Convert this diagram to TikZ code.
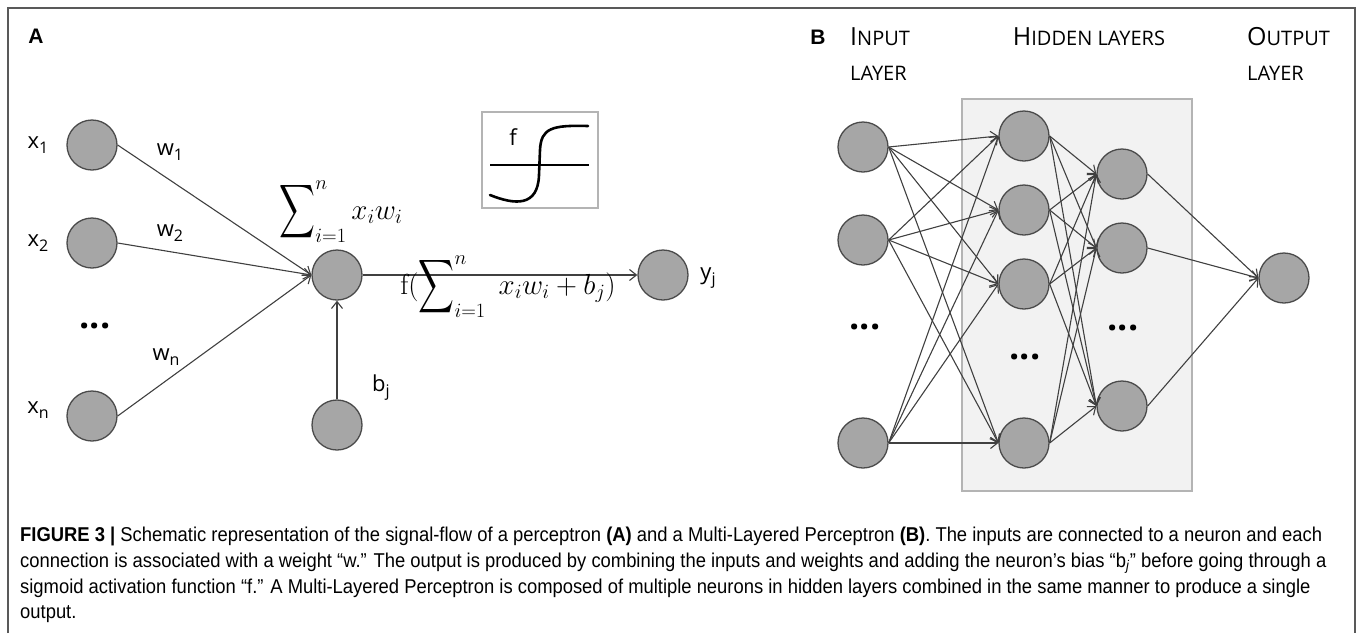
\RequirePackage{fix-cm}
\documentclass[tikz,border=0pt]{standalone}
\usepackage{amsmath}
\usepackage{exscale}
\usepackage{graphicx}
\usepackage[no-math]{fontspec}
\setmainfont{Open Sans}
\newfontfamily\capfont[FakeStretch=0.92]{Liberation Sans}
\newfontfamily\panelfont{Liberation Sans}
\usetikzlibrary{arrows.meta}

\definecolor{nodefill}{HTML}{A6A6A6}
\definecolor{nodeline}{HTML}{4A4A4A}
\definecolor{wiregray}{HTML}{404040}
\definecolor{boxline}{HTML}{B4B4B4}
\definecolor{boxfill}{HTML}{F2F2F2}
\definecolor{framegray}{HTML}{595959}

\newcommand{\lsub}[1]{\raisebox{-5pt}{\fontsize{16}{16}\selectfont #1}}
\newcommand{\capfirst}[1]{{\fontsize{25}{25}\selectfont #1}}
\newcommand{\tallsum}{\mathop{\vcenter{\hbox{\scalebox{1}[1.5]{$\displaystyle\sum$}}}}\nolimits}

\tikzset{
  neuron/.style={circle, draw=nodeline, fill=nodefill, line width=1.3pt, minimum size=50pt, inner sep=0pt},
  wire/.style={draw=wiregray, line width=1.1pt, -{Straight Barb[length=7pt,width=11pt]}},
  lbl/.style={inner sep=0pt, font=\fontsize{22}{22}\selectfont},
  mathlbl/.style={inner sep=0pt, font=\fontsize{29}{29}\selectfont},
  dotrow/.style={inner sep=0pt, font=\fontsize{36}{36}\selectfont\bfseries},
  head/.style={inner sep=0pt, anchor=base west, font=\fontsize{20}{20}\selectfont},
  panel/.style={inner sep=0pt, font=\fontsize{21}{21}\selectfont\panelfont\bfseries},
  captext/.style={inner sep=0pt, anchor=base west, font=\fontsize{20}{20}\selectfont\capfont},
}

\begin{document}
\begin{tikzpicture}[x=1pt, y=-1pt]
        \useasboundingbox (0,0) rectangle (1358,633);

        % === FRAME ===
        \draw[framegray, line width=1.2pt] (8,633) -- (8,8) -- (1355,8) -- (1355,633);

        % === PANEL A: PERCEPTRON ===
        \node[panel] (labA) at (36,36) {A};

        \node[neuron] (xa1) at (92,145) {};
        \node[neuron] (xa2) at (92,243) {};
        \node[neuron] (xan) at (92,416) {};
        \node[dotrow] (dotsA) at (95,326) {...};

        \node[lbl] (lx1) at (38,145) {x\lsub{1}};
        \node[lbl] (lx2) at (38,243) {x\lsub{2}};
        \node[lbl] (lxn) at (38,410) {x\lsub{n}};

        \node[neuron] (suma) at (337,275) {};
        \node[neuron] (bias) at (337,425) {};
        \node[neuron] (outa) at (663,275) {};

        \draw[wire] (xa1.east) -- (suma.west);
        \draw[wire] (xa2.east) -- (suma.west);
        \draw[wire] (xan.east) -- (suma.west);
        \draw[wire] (bias) -- (suma);
        \draw[wire] (suma.east) -- (outa.west);

        \node[lbl] (lw1) at (170,152) {w\lsub{1}};
        \node[lbl] (lw2) at (170,233) {w\lsub{2}};
        \node[lbl] (lwn) at (166,357) {w\lsub{n}};
        \node[lbl] (lbj) at (381,388) {b\lsub{j}};
        \node[lbl] (lyj) at (708,278) {y\lsub{j}};

        \node[mathlbl] (sumlbl) at (341,212) {$\displaystyle\tallsum_{i=1}^{n} x_i w_i$};
        \node[mathlbl] (actlbl) at (508,287) {$\displaystyle\mathrm{f}(\tallsum_{i=1}^{n}\; x_i w_i + b_j)$};

        % === SIGMOID BOX ===
        \draw[boxline, line width=1.2pt] (482,112) rectangle (598,208);
        \draw[black, line width=1.2pt] (490,165) -- (589,165);
        \draw[black, line width=2.6pt, line cap=round] (490,195)
            .. controls (515,205) and (538,207) .. (539,175) -- (540,150)
            .. controls (541,128) and (552,125) .. (588,126);
        \node[lbl] (lf) at (513,137) {f};

        % === PANEL B: MULTI-LAYERED PERCEPTRON ===
        \node[panel] (labB) at (818,37) {B};
        \node[head] (hin1) at (850,45) {\capfirst{I}NPUT};
        \node[head] (hin2) at (850,80) {LAYER};
        \node[head, anchor=base] (hhid) at (1089,45) {\capfirst{H}IDDEN LAYERS};
        \node[head] (hout1) at (1247,45) {\capfirst{O}UTPUT};
        \node[head] (hout2) at (1247,80) {LAYER};

        \draw[boxline, fill=boxfill, line width=1.2pt] (962,99) rectangle (1192,491);

        \node[neuron] (inp1) at (863,147) {};
        \node[neuron] (inp2) at (863,240) {};
        \node[neuron] (inp3) at (863,443) {};
        \node[dotrow] (dotsB1) at (865,327) {...};

        \node[neuron] (ha1) at (1024,136) {};
        \node[neuron] (ha2) at (1024,210) {};
        \node[neuron] (ha3) at (1024,284) {};
        \node[neuron] (ha4) at (1024,443) {};
        \node[dotrow] (dotsB2) at (1025,357) {...};

        \node[neuron] (hb1) at (1122,174) {};
        \node[neuron] (hb2) at (1122,248) {};
        \node[neuron] (hb3) at (1122,406) {};
        \node[dotrow] (dotsB3) at (1123,328) {...};

        \node[neuron] (yout) at (1284,278) {};

        \foreach \a in {1,2,3}
            \foreach \b in {1,...,4}
                \draw[wire] (inp\a.east) -- (ha\b.west);
        \foreach \a in {1,...,4}
            \foreach \b in {1,2,3}
                \draw[wire] (ha\a.east) -- (hb\b.west);
        \foreach \a in {1,2,3}
            \draw[wire] (hb\a.east) -- (yout.west);

        % === CAPTION ===
        \node[captext] (cap1) at (20,541) {\textbf{FIGURE 3 |} Schematic representation of the signal-flow of a perceptron \textbf{(A)} and a Multi-Layered Perceptron \textbf{(B)}. The inputs are connected to a neuron and each};
        \node[captext] (cap2) at (20,567) {connection is associated with a weight “w.” The output is produced by combining the inputs and weights and adding the neuron’s bias “b\textsubscript{\textit{j}}” before going through a};
        \node[captext] (cap3) at (20,593) {sigmoid activation function “f.” A Multi-Layered Perceptron is composed of multiple neurons in hidden layers combined in the same manner to produce a single};
        \node[captext] (cap4) at (20,618) {output.};

    \end{tikzpicture}
\end{document}
